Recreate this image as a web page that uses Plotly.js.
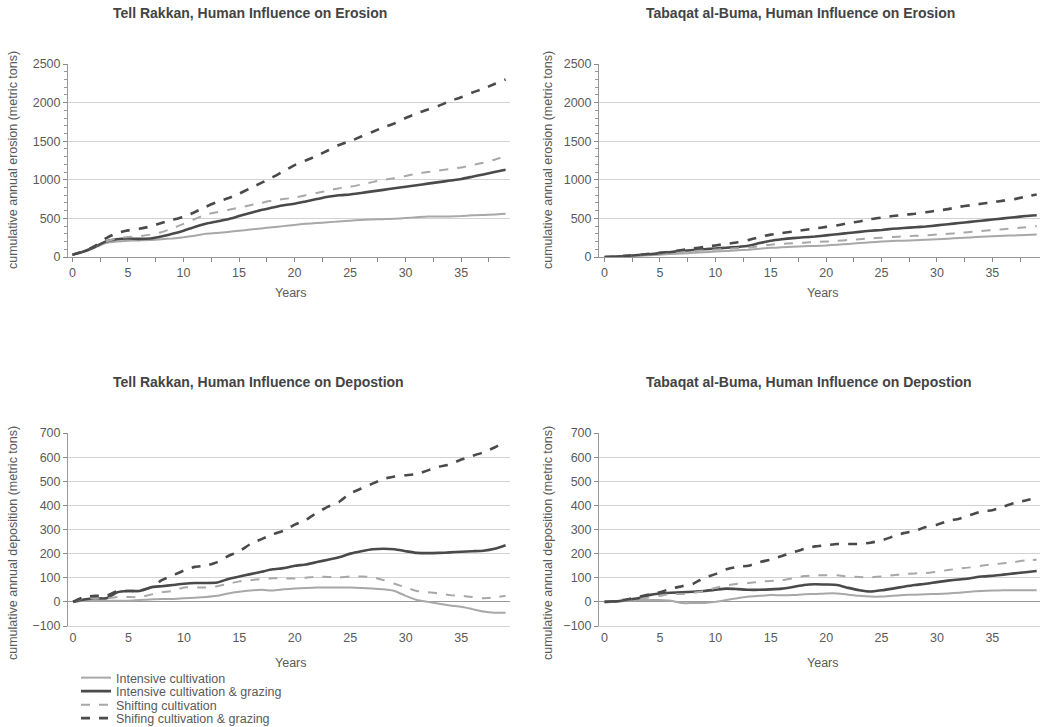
<!DOCTYPE html>
<html>
<head>
<meta charset="utf-8">
<script src="https://cdn.plot.ly/plotly-3.0.1.min.js"></script>
<style>html,body{margin:0;padding:0;background:#fff;}#chart{width:1043px;height:727px;}</style>
</head>
<body>
<div id="chart"></div>
<script>
const years = Array.from({length: 40}, (_, i) => i);
const seriesNames = ["Intensive cultivation", "Intensive cultivation & grazing", "Shifting cultivation", "Shifing cultivation & grazing"];

// Tell Rakkan, erosion
const trEroIntensive = [30,70,120,180,200,210,215,220,230,240,255,275,300,310,325,340,355,370,385,400,415,430,440,450,460,470,480,485,490,495,505,515,525,525,525,530,540,545,550,560];
const trEroIntGrazing = [30,70,130,200,230,240,235,240,265,300,340,390,430,460,490,530,570,610,640,670,690,720,750,780,800,810,830,850,870,890,910,930,950,970,990,1010,1040,1070,1100,1130];
const trEroShifting = [30,70,140,200,240,260,270,290,320,370,430,490,550,580,610,640,670,700,730,750,770,800,830,860,890,910,940,970,1000,1020,1050,1080,1100,1120,1140,1160,1190,1220,1260,1310];
const trEroShiftGrazing = [30,70,140,240,310,345,365,395,440,480,520,580,650,710,760,820,890,960,1030,1110,1190,1250,1310,1380,1450,1500,1560,1620,1680,1730,1800,1860,1910,1960,2020,2070,2130,2180,2240,2300];

// Tabaqat al-Buma, erosion
const tbEroIntensive = [0,4,10,16,22,30,38,46,54,62,70,78,86,95,108,120,126,132,138,144,150,160,170,180,190,200,206,212,218,224,230,238,246,254,262,270,275,280,285,290];
const tbEroIntGrazing = [0,5,15,25,35,50,65,80,90,100,110,120,130,145,180,210,230,245,255,265,280,295,310,325,340,350,365,375,385,395,410,425,440,455,470,485,500,515,530,540];
const tbEroShifting = [0,5,12,20,30,45,55,65,75,85,95,105,112,120,140,160,170,178,186,193,200,210,220,230,240,250,258,266,274,282,290,300,312,324,336,350,360,372,386,400];
const tbEroShiftGrazing = [0,5,15,25,40,55,70,90,110,130,150,170,190,220,260,290,310,330,350,370,390,410,440,460,490,510,530,545,560,580,600,620,650,670,690,710,730,750,780,810];

// Tell Rakkan, deposition
const trDepIntensive = [0,5,5,5,5,5,8,10,12,12,15,17,20,25,35,42,47,50,47,52,55,58,60,60,60,60,58,55,52,45,25,8,0,-8,-15,-20,-30,-40,-45,-45];
const trDepIntGrazing = [0,10,15,15,40,45,45,60,65,70,75,78,78,80,95,105,115,125,135,140,150,155,165,175,185,200,210,218,220,218,210,203,202,203,205,208,210,212,220,235];
const trDepShifting = [0,15,15,15,20,20,20,30,40,45,60,60,60,65,75,85,90,95,98,97,97,100,105,103,102,105,105,103,90,75,60,45,40,35,28,25,20,15,18,25];
const trDepShiftGrazing = [0,20,25,25,45,45,45,60,90,110,130,145,150,165,190,210,240,260,280,295,320,340,370,395,415,450,470,490,510,520,525,530,545,560,570,590,605,620,640,665];

// Tabaqat al-Buma, deposition
const tbDepIntensive = [0,0,5,8,8,8,5,-5,-5,-5,0,8,15,22,25,28,27,28,32,33,35,35,30,25,22,22,25,28,30,32,33,35,38,42,45,47,48,48,48,48];
const tbDepIntGrazing = [0,2,8,15,28,35,38,40,42,45,50,55,53,50,50,52,55,62,70,73,72,70,58,48,43,48,55,63,70,75,82,88,93,98,105,108,113,118,123,128];
const tbDepShifting = [0,2,8,12,18,25,33,33,38,45,58,68,75,78,83,87,90,98,107,110,110,110,105,103,102,105,110,115,118,120,125,132,138,143,150,155,160,165,172,175];
const tbDepShiftGrazing = [0,3,10,20,30,40,55,65,75,100,115,135,145,150,165,175,190,205,220,230,235,240,240,240,245,255,270,285,295,310,320,335,345,360,375,380,395,410,420,432];

const titles = ["Tell Rakkan, Human Influence on Erosion", "Tabaqat al-Buma, Human Influence on Erosion",
                "Tell Rakkan, Human Influence on Depostion", "Tabaqat al-Buma, Human Influence on Depostion"];
const yTitles = ["cumulative annual erosion (metric tons)", "cumulative annual deposition (metric tons)"];
const xTitle = "Years";
const xTicks = [0,5,10,15,20,25,30,35];

const styles = [
  {color: "#a8a8a8", width: 2, dash: "solid"},
  {color: "#4a4a4a", width: 2.6, dash: "solid"},
  {color: "#a8a8a8", width: 2, dash: "dash"},
  {color: "#4a4a4a", width: 2.6, dash: "dash"}
];
const legendIds = ["legend", "legend2", "legend3", "legend4"];

const panels = [
  {x: "x", y: "y", data: [trEroIntensive, trEroIntGrazing, trEroShifting, trEroShiftGrazing]},
  {x: "x2", y: "y2", data: [tbEroIntensive, tbEroIntGrazing, tbEroShifting, tbEroShiftGrazing]},
  {x: "x3", y: "y3", data: [trDepIntensive, trDepIntGrazing, trDepShifting, trDepShiftGrazing], legend: true},
  {x: "x4", y: "y4", data: [tbDepIntensive, tbDepIntGrazing, tbDepShifting, tbDepShiftGrazing]}
];

const traces = [];
panels.forEach(p => {
  p.data.forEach((vals, i) => {
    traces.push({
      type: "scatter", mode: "lines", x: years, y: vals,
      xaxis: p.x, yaxis: p.y, name: seriesNames[i],
      line: Object.assign({shape: "spline", smoothing: 0.5}, styles[i]),
      showlegend: !!p.legend, legend: legendIds[i], hoverinfo: "skip"
    });
  });
});

const FAM = "Liberation Sans, Arial, sans-serif";
const font = {family: FAM, color: "#5a5a5a", size: 12.5};
const W = 1043, H = 727;
const colL = [68 / W, 510 / W];
const colR = [599 / W, 1040 / W];
const rowT = [1 - 257 / H, 1 - 64 / H];
const rowB = [1 - 626 / H, 1 - 433 / H];
const zeroPos = rowB[0] + (100 / 800) * (rowB[1] - rowB[0]);

function xax(domain, range, anchor, withTicks) {
  const a = {
    domain: domain, range: range, anchor: anchor,
    tickvals: xTicks, ticks: withTicks ? "outside" : "", ticklen: 4, tickcolor: "#888",
    showgrid: false, zeroline: false, showline: true, linecolor: withTicks ? "#999" : "#d2d2d2", linewidth: 1,
    tickfont: font, fixedrange: true
  };
  if (withTicks) a.minor = {dtick: 2.5, ticks: "outside", ticklen: 4, tickcolor: "#888"};
  return a;
}
function zeroAx(overlay, range, dir) {
  return {
    overlaying: overlay, anchor: "free", position: zeroPos, range: range,
    tickvals: xTicks, ticks: dir, ticklen: 4, tickcolor: "#888",
    minor: {dtick: 2.5, ticks: dir, ticklen: 4, tickcolor: "#888"},
    showticklabels: false, showgrid: false, zeroline: false, showline: false, fixedrange: true
  };
}
function yax(domain, range, dtick, anchor, minor) {
  const a = {
    domain: domain, range: range, anchor: anchor, dtick: dtick,
    showgrid: true, gridcolor: "#d2d2d2", gridwidth: 1,
    zeroline: true, zerolinecolor: "#999", zerolinewidth: 1,
    showline: true, linecolor: "#999", linewidth: 1,
    ticks: "outside", ticklen: 4, tickcolor: "#888",
    tickfont: font, fixedrange: true
  };
  if (minor) a.minor = {dtick: minor, ticks: "outside", ticklen: 3, tickcolor: "#999", showgrid: false};
  return a;
}

const titleFont = {family: FAM, size: 14, color: "#444", weight: "bold"};
const annotations = [
  {text: "<b>" + titles[0] + "</b>", x: 250 / W, y: 1 - 13 / H},
  {text: "<b>" + titles[1] + "</b>", x: 800 / W, y: 1 - 13 / H},
  {text: "<b>" + titles[2] + "</b>", x: 258 / W, y: 1 - 382 / H},
  {text: "<b>" + titles[3] + "</b>", x: 809 / W, y: 1 - 382 / H}
].map(a => Object.assign(a, {xref: "paper", yref: "paper", showarrow: false, font: titleFont, xanchor: "center", yanchor: "middle"}));

[[13, 160, 0], [548, 160, 0], [13, 543, 1], [548, 543, 1]].forEach(([px, py, k]) => {
  annotations.push({text: yTitles[k], x: px / W, y: 1 - py / H, xref: "paper", yref: "paper", showarrow: false,
    textangle: -90, font: font, xanchor: "center", yanchor: "middle"});
});
[[291, 293], [823, 293], [291, 663], [823, 663]].forEach(([px, py]) => {
  annotations.push({text: xTitle, x: px / W, y: 1 - py / H, xref: "paper", yref: "paper", showarrow: false,
    font: font, xanchor: "center", yanchor: "middle"});
});

function legendAt(py) {
  return {x: 76 / W, y: 1 - py / H, xanchor: "left", yanchor: "middle", bgcolor: "rgba(0,0,0,0)",
    font: {family: FAM, size: 12.5, color: "#5a5a5a"}, itemwidth: 30, borderwidth: 0};
}

const layout = {
  width: W, height: H,
  margin: {l: 0, r: 0, t: 0, b: 0, autoexpand: false},
  paper_bgcolor: "#fff", plot_bgcolor: "#fff",
  font: font,
  xaxis: xax(colL, [-0.4, 39.4], "y", true),
  yaxis: yax(rowT, [0, 2500], 500, "x", 100),
  xaxis2: xax(colR, [-0.5, 39.3], "y2", true),
  yaxis2: yax(rowT, [0, 2500], 500, "x2", 100),
  xaxis3: xax(colL, [-0.45, 39.4], "y3", false),
  yaxis3: yax(rowB, [-100, 700], 100, "x3"),
  xaxis4: xax(colR, [-0.5, 39.3], "y4", false),
  yaxis4: yax(rowB, [-100, 700], 100, "x4"),
  xaxis5: zeroAx("x3", [-0.45, 39.4], "outside"),
  xaxis6: zeroAx("x3", [-0.45, 39.4], "inside"),
  xaxis7: zeroAx("x4", [-0.5, 39.3], "outside"),
  xaxis8: zeroAx("x4", [-0.5, 39.3], "inside"),
  annotations: annotations,
  showlegend: true,
  legend: legendAt(678),
  legend2: legendAt(691.5),
  legend3: legendAt(705),
  legend4: legendAt(718.5)
};

Plotly.newPlot("chart", traces, layout, {staticPlot: true, displayModeBar: false});
</script>
</body>
</html>
